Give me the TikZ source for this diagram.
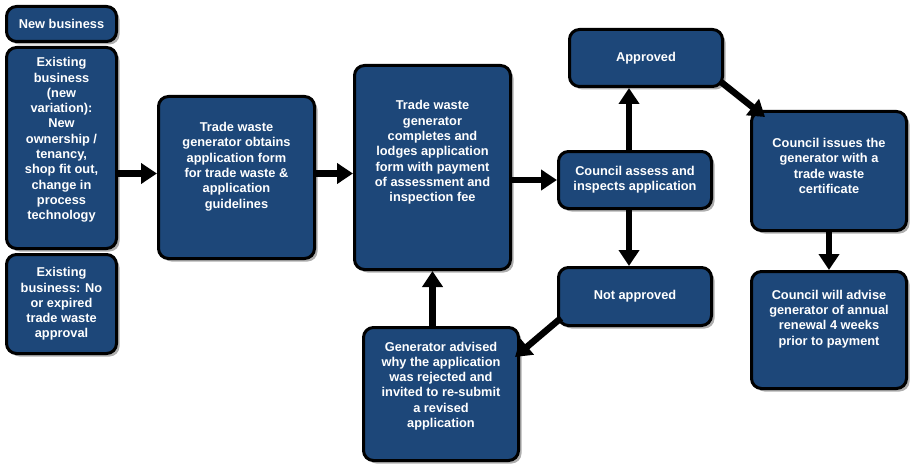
\documentclass[tikz,border=0pt]{standalone}
\usepackage{fontspec}
\setmainfont{Liberation Sans}
\usetikzlibrary{arrows.meta,shadows}
\definecolor{boxblue}{HTML}{1D4779}
\newcommand{\bxt}[4]{\parbox[c][#2pt][c]{#1pt}{\centering #4\par\vspace{#3pt}}}
\begin{document}
\begin{tikzpicture}[x=1pt,y=-1pt,
  flowbox/.style={draw=black,line width=3pt,fill=boxblue,rounded corners=10pt,inner sep=0pt,
    text=white,font=\fontsize{12.8pt}{15.3pt}\selectfont\bfseries,
    drop shadow={shadow xshift=3pt,shadow yshift=-3pt,fill=black!45,opacity=0.7}},
  flowarrow/.style={line width=6.5pt,-{Triangle[width=20pt,length=16pt]}}]
\useasboundingbox (0,0) rectangle (923,476);
\node[flowbox] (b1) at (61.5,24) {\bxt{110}{35}{0}{New business}};
\node[flowbox] (b2) at (61.5,148) {\bxt{110}{201}{16}{Existing\\business\\(new\\variation):\\New\\ownership /\\tenancy,\\shop fit out,\\change in\\process\\technology}};
\node[flowbox] (b3) at (61.5,304) {\bxt{110}{99}{0}{Existing\\business: No\\or expired\\trade waste\\approval}};
\node[flowbox] (b4) at (236.5,177.5) {\bxt{156}{162}{22}{Trade waste\\generator obtains\\application form\\for trade waste \&\\application\\guidelines}};
\node[flowbox] (b5) at (432.5,167.5) {\bxt{156}{204}{30}{Trade waste\\generator\\completes and\\lodges application\\form with payment\\of assessment and\\inspection fee}};
\node[flowbox] (b6) at (635,180) {\bxt{153}{57}{0}{Council assess and\\inspects application}};
\node[flowbox] (appr) at (646,58) {\bxt{153}{57}{0}{Approved}};
\node[flowbox] (napp) at (635,296.5) {\bxt{153}{58}{0}{Not approved}};
\node[flowbox] (gen) at (441,394) {\bxt{155}{133}{16}{Generator advised\\why the application\\was rejected and\\invited to re-submit\\a revised\\application}};
\node[flowbox] (ciss) at (829,171) {\bxt{155}{119}{10}{Council issues the\\generator with a\\trade waste\\certificate}};
\node[flowbox] (cadv) at (829,330) {\bxt{155}{117}{22}{Council will advise\\generator of annual\\renewal 4 weeks\\prior to payment}};
\draw[flowarrow] ([yshift=4pt]b4.west -| b2.east) -- ([yshift=4pt]b4.west);
\draw[flowarrow] ([yshift=4pt]b4.east) -- ([yshift=4pt]b4.east -| b5.west);
\draw[flowarrow] (b6.west -| b5.east) -- (b6.west);
\draw[flowarrow] ([xshift=-6pt]b6.north) -- ([xshift=-6pt]b6.north |- appr.south);
\draw[flowarrow] ([xshift=-6pt]b6.south) -- ([xshift=-6pt]b6.south |- napp.north);
\draw[flowarrow] ([shift={(4,-9)}]napp.south west) -- ([shift={(-5,31)}]gen.north east);
\draw[flowarrow] (b5.south |- gen.north) -- (b5.south);
\draw[flowarrow] ([shift={(-3,-6)}]appr.south east) -- ([shift={(15,7)}]ciss.north west);
\draw[flowarrow] (ciss.south -| cadv.north) -- (cadv.north);
\end{tikzpicture}
\end{document}
